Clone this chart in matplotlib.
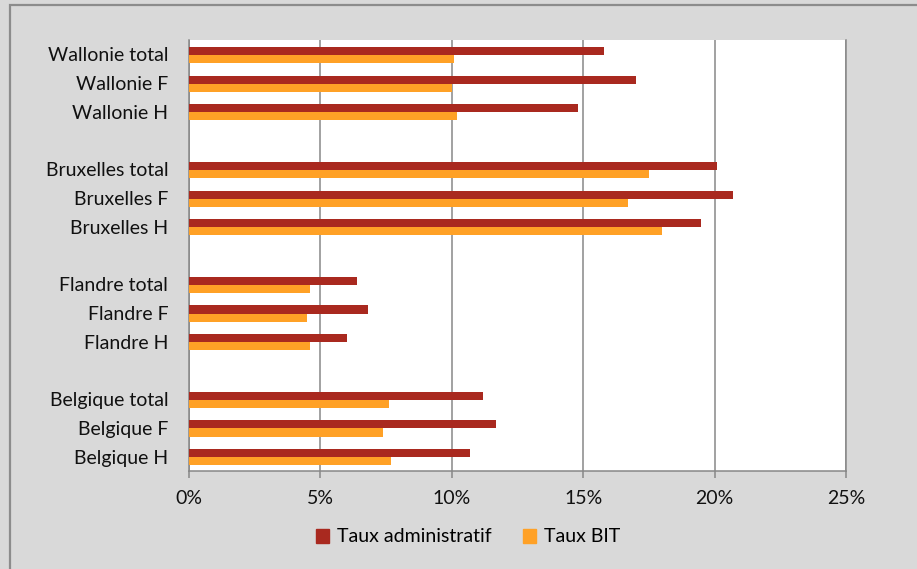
import matplotlib.pyplot as plt
from matplotlib.patches import Rectangle
import numpy as np

# Categories from top to bottom; empty strings are spacer rows between regions
CATEGORIES = [
    "Wallonie total", "Wallonie F", "Wallonie H", "",
    "Bruxelles total", "Bruxelles F", "Bruxelles H", "",
    "Flandre total", "Flandre F", "Flandre H", "",
    "Belgique total", "Belgique F", "Belgique H",
]

# Values in % (None on spacer rows)
TAUX_ADMIN = [15.8, 17.0, 14.8, None,
              20.1, 20.7, 19.5, None,
              6.4, 6.8, 6.0, None,
              11.2, 11.7, 10.7]
TAUX_BIT = [10.1, 10.0, 10.2, None,
            17.5, 16.7, 18.0, None,
            4.6, 4.5, 4.6, None,
            7.6, 7.4, 7.7]

X_TICKS = [0, 5, 10, 15, 20, 25]

RED = "#A9291F"
ORANGE = "#FFA126"
GRID = "#878787"
BG = "#D9D9D9"

plt.rcParams["font.family"] = ["Lato", "DejaVu Sans"]

W, H = 917, 569
fig = plt.figure(figsize=(W / 100, H / 100), dpi=100)
fig.patch.set_facecolor(BG)

# outer chart frame (left and top edges visible)
fig.patches.append(Rectangle((10 / W, -0.1), 1.2, (H - 5) / H + 0.1,
                             transform=fig.transFigure, fill=False,
                             edgecolor="#8C8C8C", linewidth=1.6))

ax = fig.add_axes([189 / W, (H - 471) / H, (846 - 189) / W, (471 - 40) / H])
ax.set_facecolor("white")

rows = np.arange(len(CATEGORIES))
h = 0.28
for i, (a, b) in enumerate(zip(TAUX_ADMIN, TAUX_BIT)):
    if a is None:
        continue
    ax.barh(i - h / 2 + 0.02, a, height=h, color=RED, zorder=3)
    ax.barh(i + h / 2 + 0.02, b, height=h, color=ORANGE, zorder=3)

ax.set_ylim(len(CATEGORIES) - 0.5, -0.5)
ax.set_xlim(0, 25)
ax.set_yticks(rows)
ax.set_yticklabels(CATEGORIES, fontsize=14, color="#111111")
ax.tick_params(axis="y", length=0, pad=15)

ax.set_xticks(X_TICKS)
ax.set_xticklabels([f"{t}%" for t in X_TICKS], fontsize=14, color="#111111")
ax.tick_params(axis="x", length=5, width=1.1, color=GRID, pad=9)

ax.grid(axis="x", color=GRID, linewidth=1.1, zorder=1)
ax.spines["top"].set_visible(False)
for side in ["left", "bottom", "right"]:
    ax.spines[side].set_color(GRID)
    ax.spines[side].set_linewidth(1.1)

handles = [Rectangle((0, 0), 1, 1, color=RED), Rectangle((0, 0), 1, 1, color=ORANGE)]
fig.legend(handles, ["Taux administratif", "Taux BIT"],
           loc="center", bbox_to_anchor=(468 / W, 1 - 537 / H),
           ncol=2, frameon=False, fontsize=14,
           handlelength=0.7, handleheight=0.7, handletextpad=0.4,
           columnspacing=1.6)

fig.savefig("out.png", dpi=100, facecolor=BG)
